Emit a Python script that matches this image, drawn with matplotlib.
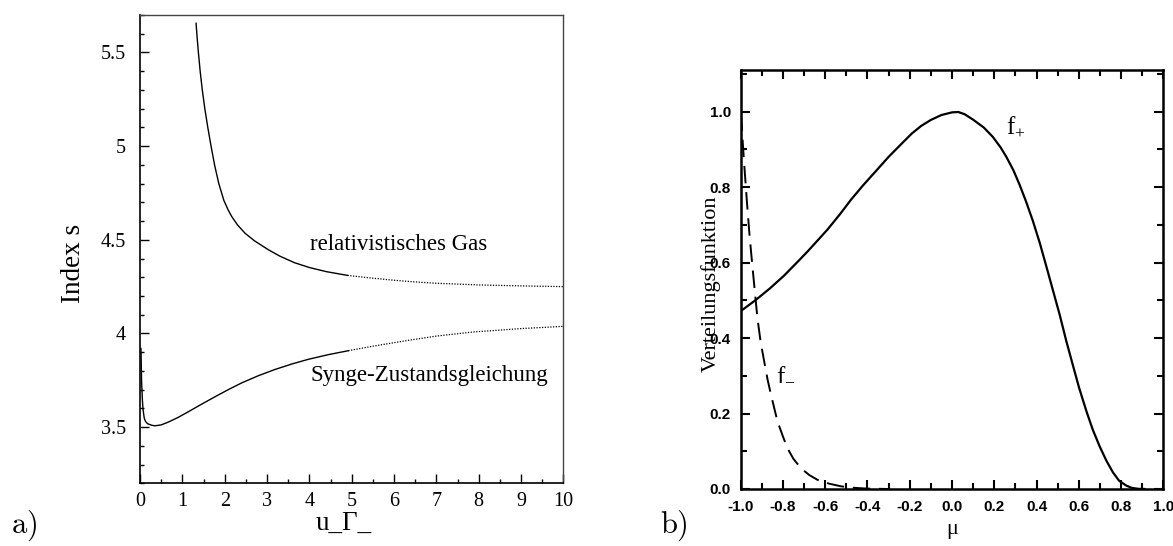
import numpy as np
import matplotlib.pyplot as plt
from matplotlib.ticker import MultipleLocator, FuncFormatter

# a) Index s gegen u_Γ_ (durchgezogen bis ~5, danach gepunktet)
gas_x = [1.323, 1.35, 1.378, 1.42, 1.47, 1.53, 1.60, 1.677, 1.76, 1.86, 1.98,
         2.08, 2.166, 2.3, 2.48, 2.7, 3.03, 3.3, 3.645, 4.0, 4.4, 4.9]
gas_y = [5.656, 5.575, 5.50, 5.40, 5.30, 5.20, 5.10, 5.00, 4.90, 4.80, 4.71,
         4.66, 4.624, 4.58, 4.535, 4.495, 4.447, 4.413, 4.378, 4.352, 4.33, 4.31]
gas_x_dot = [4.9, 5.5, 6.0, 6.5, 7.0, 8.0, 9.0, 10.0]
gas_y_dot = [4.31, 4.295, 4.284, 4.275, 4.268, 4.259, 4.254, 4.25]

synge_x = [0.02, 0.024, 0.035, 0.055, 0.07, 0.10, 0.13, 0.18, 0.276, 0.35, 0.5,
           0.67, 0.9, 1.14, 1.45, 1.77, 2.1, 2.4, 2.8, 3.19, 3.6, 3.976, 4.45, 4.92]
synge_y = [3.92, 3.9, 3.75, 3.645, 3.595, 3.547, 3.53, 3.518, 3.51, 3.507, 3.512,
           3.527, 3.552, 3.582, 3.622, 3.662, 3.702, 3.736, 3.775, 3.808, 3.838,
           3.862, 3.887, 3.908]
synge_x_dot = [4.92, 5.5, 6.3, 7.0, 7.87, 9.0, 10.0]
synge_y_dot = [3.908, 3.932, 3.962, 3.986, 4.008, 4.026, 4.038]

# b) Verteilungsfunktionen f+ und f- gegen mu
fplus_mu = [-1.0, -0.93, -0.86, -0.793, -0.73, -0.682, -0.63, -0.588, -0.53,
            -0.477, -0.42, -0.367, -0.30, -0.24, -0.19, -0.146, -0.10, -0.05, 0.0,
            0.03, 0.06, 0.099, 0.15, 0.193, 0.23, 0.257, 0.29, 0.319, 0.35, 0.382,
            0.415, 0.446, 0.478, 0.509, 0.54, 0.572, 0.60, 0.635, 0.665, 0.698,
            0.73, 0.761, 0.79, 0.824, 0.85, 0.88, 0.91]
fplus_val = [0.471, 0.50, 0.532, 0.566, 0.602, 0.63, 0.662, 0.688, 0.728,
             0.767, 0.805, 0.838, 0.88, 0.914, 0.942, 0.962, 0.978, 0.991, 0.998,
             0.999, 0.993, 0.979, 0.958, 0.933, 0.905, 0.88, 0.845, 0.807, 0.762,
             0.711, 0.652, 0.59, 0.525, 0.462, 0.393, 0.327, 0.27, 0.207, 0.158,
             0.113, 0.075, 0.044, 0.022, 0.009, 0.003, 0.0005, 0.0]

fminus_mu = [-0.998, -0.985, -0.97, -0.957, -0.943, -0.93, -0.92, -0.905, -0.888,
             -0.872, -0.856, -0.84, -0.825, -0.80, -0.778, -0.75, -0.714, -0.675,
             -0.635, -0.58, -0.524, -0.46, -0.40, -0.30]
fminus_val = [0.995, 0.88, 0.763, 0.67, 0.586, 0.51, 0.453, 0.39, 0.338,
              0.29, 0.25, 0.213, 0.179, 0.14, 0.108, 0.08, 0.055, 0.037,
              0.024, 0.014, 0.007, 0.003, 0.001, 0.0]

SERIF = ['Liberation Serif', 'DejaVu Serif']
plt.rcParams['font.family'] = SERIF
plt.rcParams['mathtext.fontset'] = 'custom'
plt.rcParams['mathtext.rm'] = 'Liberation Serif'

fig = plt.figure(figsize=(11.73, 5.46), dpi=100)

# ---- linkes Diagramm ----
ax1 = fig.add_axes([0.1194, 0.1148, 0.3609, 0.8577])
ax1.plot(gas_x, gas_y, color='black', lw=1.0)
ax1.plot(gas_x_dot, gas_y_dot, color='black', lw=0.9, ls=(0, (1, 1.2)))
ax1.plot(synge_x, synge_y, color='black', lw=1.0)
ax1.plot(synge_x_dot, synge_y_dot, color='black', lw=0.9, ls=(0, (1, 1.2)))

ax1.set_xlim(0, 10)
ax1.set_ylim(3.2, 5.7)
ax1.xaxis.set_major_locator(MultipleLocator(1))
ax1.xaxis.set_minor_locator(MultipleLocator(0.5))
ax1.yaxis.set_major_locator(MultipleLocator(0.5))
ax1.yaxis.set_minor_locator(MultipleLocator(0.1))
ax1.yaxis.set_major_formatter(FuncFormatter(lambda v, p: f"{v:g}"))
ax1.tick_params(which='both', direction='in', top=False, right=False,
                width=1.0, labelsize=14.5)
ax1.tick_params(which='major', length=6.5)
ax1.tick_params(which='minor', length=3.2)
ax1.tick_params(axis='y', pad=10)
ax1.tick_params(axis='x', pad=6)
for side in ['left', 'bottom']:
    ax1.spines[side].set_linewidth(1.2)
for side in ['top', 'right']:
    ax1.spines[side].set_linewidth(1.0)
    ax1.spines[side].set_color('#444444')

ax1.set_ylabel('Index s', fontsize=19.5)
ax1.yaxis.set_label_coords(-0.128, 0.47)
ax1.set_xlabel('u_Γ_', fontsize=19.5, va='top')
ax1.xaxis.set_label_coords(0.48, -0.058)

ax1.text(4.016, 4.447, 'relativistisches Gas', fontsize=16.5, va='baseline')
ax1.text(4.016, 3.745, 'Synge-Zustandsgleichung', fontsize=16.5, va='baseline')

# ---- rechtes Diagramm ----
ax2 = fig.add_axes([0.6313, 0.1044, 0.3606, 0.7665])
ax2.plot(fplus_mu, fplus_val, color='black', lw=1.6)
ax2.plot(fminus_mu, fminus_val, color='black', lw=1.4, dashes=(9, 4.5))

ax2.set_xlim(-1.0, 1.0)
ax2.set_ylim(0.0, 1.109)
ax2.xaxis.set_major_locator(MultipleLocator(0.2))
ax2.xaxis.set_minor_locator(MultipleLocator(0.1))
ax2.yaxis.set_major_locator(MultipleLocator(0.2))
ax2.yaxis.set_minor_locator(MultipleLocator(0.1))
fmt = FuncFormatter(lambda v, p: f"{0.0 if abs(v) < 1e-9 else v:.1f}")
ax2.xaxis.set_major_formatter(fmt)
ax2.yaxis.set_major_formatter(fmt)
ax2.tick_params(which='both', direction='in', top=True, right=True, width=1.5,
                labelsize=11)
ax2.tick_params(which='major', length=6.5)
ax2.tick_params(which='minor', length=4)
ax2.tick_params(axis='y', pad=7)
ax2.tick_params(axis='x', pad=8)
for lab in ax2.get_xticklabels() + ax2.get_yticklabels():
    lab.set_family(['Liberation Sans', 'DejaVu Sans'])
    lab.set_weight('bold')
for side in ax2.spines:
    ax2.spines[side].set_linewidth(1.8)

ax2.set_ylabel('Verteilungsfunktion', fontsize=16)
ax2.yaxis.set_label_coords(-0.046, 0.49)
ax2.set_xlabel('μ', fontsize=16, va='top')
ax2.xaxis.set_label_coords(0.5, -0.075)

ax2.text(0.254, 0.945, r'$\mathrm{f}_{+}$', fontsize=18, va='baseline')
ax2.text(-0.833, 0.29, r'$\mathrm{f}_{-}$', fontsize=18, va='baseline')

# Teilbild-Kennungen
fig.text(0.0094, 0.024, r'$\mathrm{a)}$', fontsize=22, math_fontfamily='cm')
fig.text(0.563, 0.024, r'$\mathrm{b)}$', fontsize=22, math_fontfamily='cm')

fig.savefig('out.png', dpi=100)
